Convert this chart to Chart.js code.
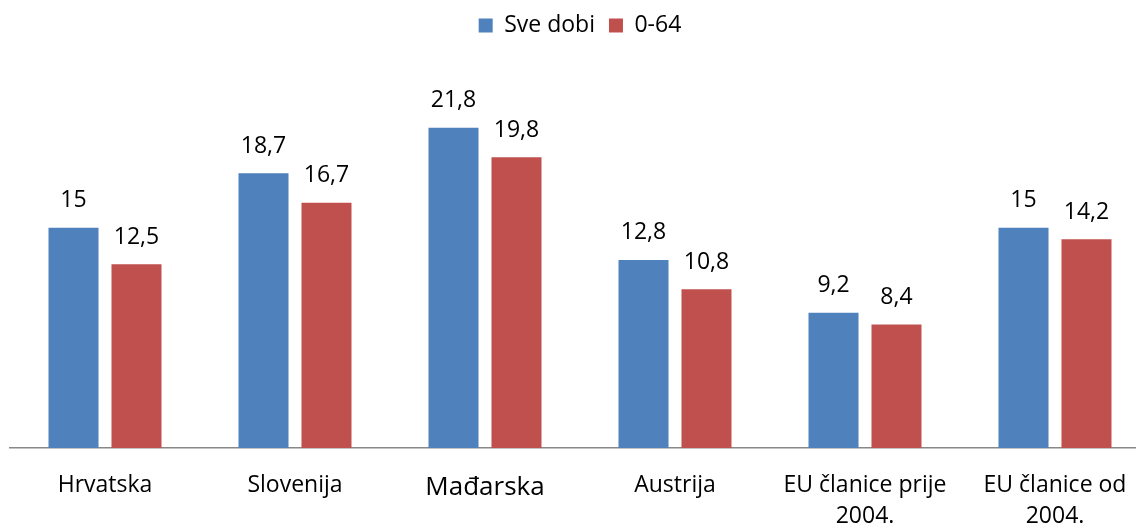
<!DOCTYPE html>
<html>
<head>
<meta charset="utf-8">
<script src="https://cdn.jsdelivr.net/npm/chart.js@4/dist/chart.umd.min.js"></script>
<style>
  html, body { margin: 0; padding: 0; background: #fff; overflow: hidden; }
  #wrap { width: 1150px; height: 525px; overflow: hidden; }
</style>
</head>
<body>
<div id="wrap"><canvas id="chart" width="1150" height="554"></canvas></div>
<script>
var categories = ["Hrvatska", "Slovenija", "Mađarska", "Austrija", ["EU članice prije", "2004."], ["EU članice od", "2004."]];
var sveDobi = [15, 18.7, 21.8, 12.8, 9.2, 15];
var do64 = [12.5, 16.7, 19.8, 10.8, 8.4, 14.2];

var FONT = "'Open Sans', 'Noto Sans', sans-serif";

// value labels above bars, decimal comma
var barLabels = {
	id: "barLabels",
	afterDatasetsDraw: function (chart) {
		var ctx = chart.ctx;
		ctx.save();
		ctx.font = "23px " + FONT;
		ctx.fillStyle = "#000";
		ctx.textAlign = "center";
		ctx.textBaseline = "middle";
		chart.data.datasets.forEach(function (ds, i) {
			chart.getDatasetMeta(i).data.forEach(function (bar, j) {
				ctx.fillText(String(ds.data[j]).replace(".", ","), bar.x, bar.y - 27);
			});
		});
		ctx.restore();
	},
};

new Chart(document.getElementById("chart"), {
	type: "bar",
	data: {
		labels: categories,
		datasets: [
			{ label: "Sve dobi", data: sveDobi, backgroundColor: "#4F81BD" },
			{ label: "0-64", data: do64, backgroundColor: "#C0504D" },
		],
	},
	options: {
		responsive: false,
		animation: false,
		layout: { padding: { left: 10, right: 0, top: 0, bottom: 0 } },
		categoryPercentage: 0.663,
		barPercentage: 0.794,
		plugins: {
			legend: {
				position: "top",
				labels: {
					boxWidth: 14,
					boxHeight: 14,
					padding: 14,
					color: "#000",
					font: { family: FONT, size: 23 },
				},
			},
			tooltip: { enabled: false },
		},
		scales: {
			y: {
				display: false,
				min: 0,
				max: 27.3,
			},
			x: {
				grid: { display: false, drawTicks: false },
				border: { display: true, color: "#888", width: 1.5 },
				ticks: {
					color: "#000",
					padding: 22,
					maxRotation: 0,
					autoSkip: false,
					font: function (c) {
						return c.index === 2
							? { family: FONT, size: 26, lineHeight: 1.35 }
							: { family: FONT, size: 23, lineHeight: 1.35 };
					},
				},
			},
		},
	},
	plugins: [barLabels],
});
</script>
</body>
</html>
